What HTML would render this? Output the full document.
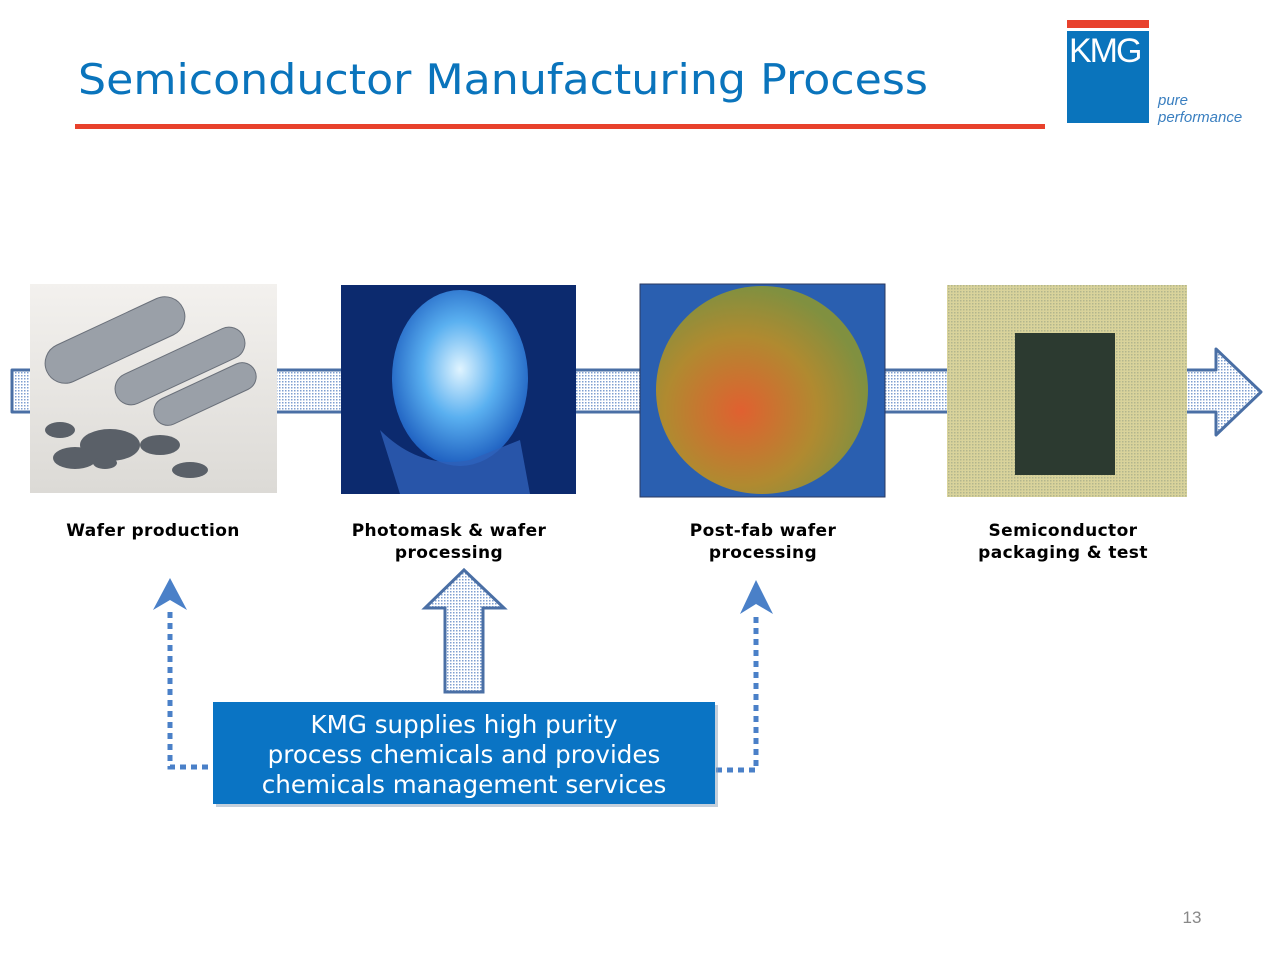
<!DOCTYPE html>
<html><head><style>
body{margin:0;background:#fff;font-family:"DejaVu Sans",sans-serif}
</style></head><body>
<svg width="1280" height="960" viewBox="0 0 1280 960" xmlns="http://www.w3.org/2000/svg" font-family="DejaVu Sans, sans-serif">
<defs>
<pattern id="dots" width="3" height="3" patternUnits="userSpaceOnUse"><rect width="3" height="3" fill="#fff"/><rect width="1.5" height="1.5" fill="#7f9fd0"/></pattern>
<radialGradient id="w2" cx="50%" cy="45%" r="55%"><stop offset="0" stop-color="#e0f4ff"/><stop offset="0.5" stop-color="#5ab0f0"/><stop offset="1" stop-color="#1e5fc0"/></radialGradient>
<radialGradient id="w3" cx="40%" cy="60%" r="60%"><stop offset="0" stop-color="#e06030"/><stop offset="0.6" stop-color="#b08a30"/><stop offset="1" stop-color="#809040"/></radialGradient>
<linearGradient id="bg1" x1="0" y1="0" x2="0" y2="1"><stop offset="0" stop-color="#f3f1ee"/><stop offset="1" stop-color="#dcdad6"/></linearGradient>
</defs>
<text x="78" y="94" font-size="42" fill="#0a74bc" textLength="850" lengthAdjust="spacingAndGlyphs">Semiconductor Manufacturing Process</text>
<rect x="75" y="124" width="970" height="5" fill="#e8412c"/>
<rect x="1067" y="20" width="82" height="8" fill="#e8412c"/>
<rect x="1067" y="31" width="82" height="92" fill="#0a74bc"/>
<text x="1069" y="62" font-family="Liberation Sans, sans-serif" font-size="34" fill="#fff" letter-spacing="-2">KMG</text>
<text x="1158" y="105" font-family="Liberation Sans, sans-serif" font-size="15" font-style="italic" fill="#3a7fc0">pure</text>
<text x="1158" y="122" font-family="Liberation Sans, sans-serif" font-size="15" font-style="italic" fill="#3a7fc0">performance</text>
<path d="M12 370 H1216 V349 L1261 392 L1216 435 V412 H12 Z" fill="url(#dots)" stroke="#4a6fa5" stroke-width="3" stroke-linejoin="round"/>
<rect x="30" y="284" width="247" height="209" fill="url(#bg1)"/>
<g fill="#9aa0a8" stroke="#6a707a"><rect x="40" y="320" width="150" height="40" rx="20" transform="rotate(-25 115 340)"/><rect x="110" y="350" width="140" height="32" rx="16" transform="rotate(-25 180 366)"/><rect x="150" y="380" width="110" height="28" rx="14" transform="rotate(-25 205 394)"/></g>
<g fill="#5a6068"><ellipse cx="60" cy="430" rx="15" ry="8"/><ellipse cx="110" cy="445" rx="30" ry="16"/><ellipse cx="75" cy="458" rx="22" ry="11"/><ellipse cx="160" cy="445" rx="20" ry="10"/><ellipse cx="190" cy="470" rx="18" ry="8"/><ellipse cx="105" cy="463" rx="12" ry="6"/></g>
<rect x="341" y="285" width="235" height="209" fill="#0c2a6e"/>
<ellipse cx="460" cy="378" rx="68" ry="88" fill="url(#w2)"/>
<path d="M380 430 Q420 470 470 460 L520 440 L530 494 L400 494 Z" fill="#3060b8" opacity="0.8"/>
<rect x="640" y="284" width="245" height="213" fill="#2a5fb0" stroke="#2a3a60"/>
<ellipse cx="762" cy="390" rx="106" ry="104" fill="url(#w3)"/>
<rect x="947" y="285" width="240" height="212" fill="#c8c070"/>
<rect x="947" y="285" width="240" height="212" fill="url(#dots)" opacity="0.3"/>
<rect x="1015" y="333" width="100" height="142" fill="#2c3a30"/>
<g font-size="17" font-weight="bold" fill="#000" text-anchor="middle" letter-spacing="0.4">
<text x="153" y="536">Wafer production</text>
<text x="449" y="536">Photomask &amp; wafer</text><text x="449" y="558">processing</text>
<text x="763" y="536">Post-fab wafer</text><text x="763" y="558">processing</text>
<text x="1063" y="536">Semiconductor</text><text x="1063" y="558">packaging &amp; test</text>
</g>
<path d="M445 692 V608 H425 L464 570 L504 608 H483 V692 Z" fill="url(#dots)" stroke="#4a6fa5" stroke-width="3"/>
<path d="M170 612 V767 H213 M716 770 H756 V614" fill="none" stroke="#4a80c8" stroke-width="5" stroke-dasharray="6 5"/>
<path d="M153 610 L170 578 L187 610 L170 600 Z" fill="#4a80c8"/>
<path d="M740 614 L756 580 L773 614 L756 604 Z" fill="#4a80c8"/>
<rect x="216" y="705" width="502" height="102" fill="#8aa0b8" opacity="0.5"/>
<rect x="213" y="702" width="502" height="102" fill="#0a74c4"/>
<g font-size="24.6" fill="#fff" text-anchor="middle">
<text x="464" y="733">KMG supplies high purity</text>
<text x="464" y="763">process chemicals and provides</text>
<text x="464" y="793">chemicals management services</text>
</g>
<text x="1192" y="923" font-family="Liberation Sans, sans-serif" font-size="17" fill="#888" text-anchor="middle">13</text>
</svg>
</body></html>
